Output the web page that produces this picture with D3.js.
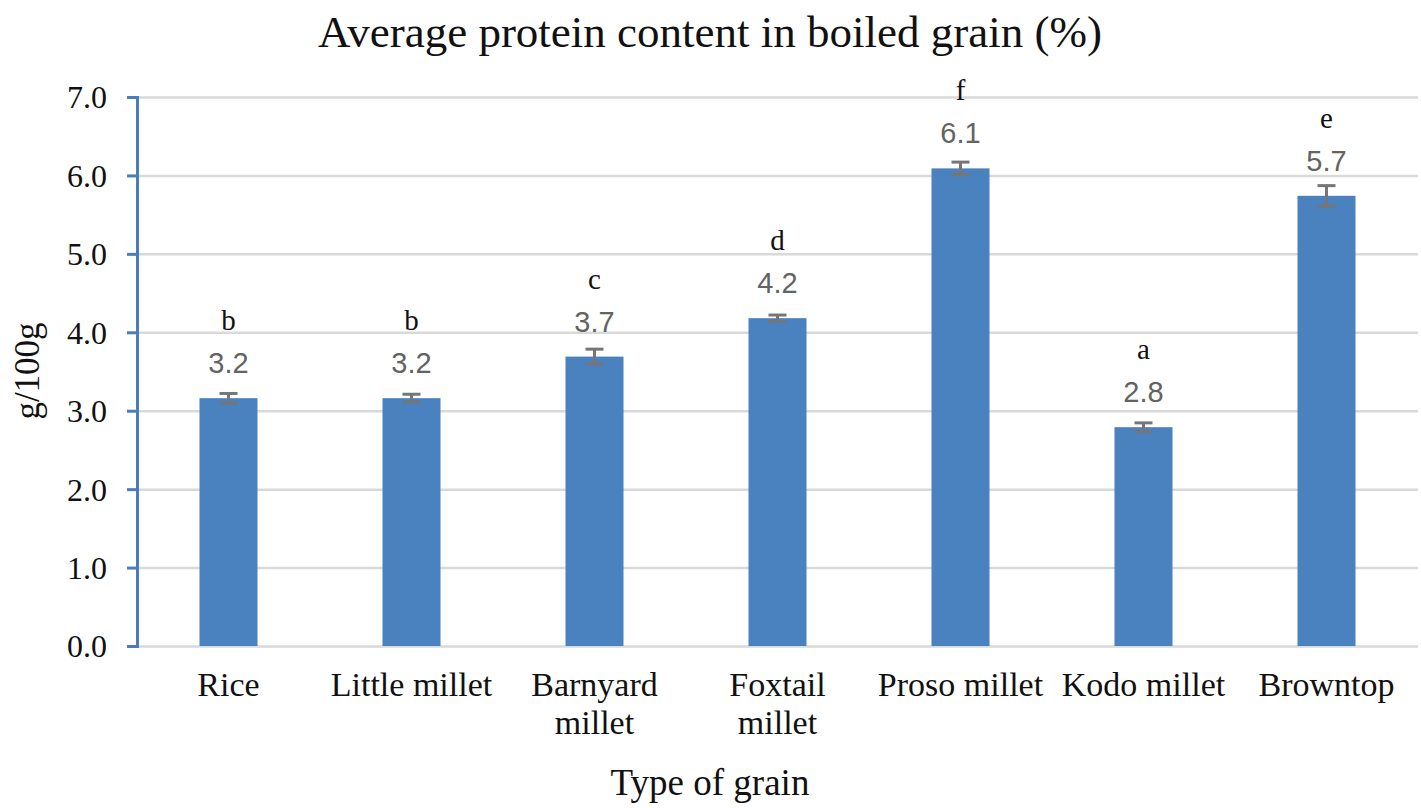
<!DOCTYPE html>
<html>
<head>
<meta charset="utf-8">
<script src="https://cdn.jsdelivr.net/npm/d3@7/dist/d3.min.js"></script>
<style>
  html, body { margin: 0; padding: 0; background: #fff; }
  svg { display: block; }
</style>
</head>
<body>
<svg id="chart" width="1421" height="808"></svg>
<script>
// ---- data ----
const categories = ["Rice", "Little millet", "Barnyard millet", "Foxtail millet", "Proso millet", "Kodo millet", "Browntop"];
const labelLines = [["Rice"], ["Little millet"], ["Barnyard", "millet"], ["Foxtail", "millet"], ["Proso millet"], ["Kodo millet"], ["Browntop"]];
const values = [3.16, 3.16, 3.69, 4.18, 6.09, 2.79, 5.74];
const errors = [0.06, 0.05, 0.095, 0.04, 0.08, 0.055, 0.13];
const letters = ["b", "b", "c", "d", "f", "a", "e"];
const yTicks = [0, 1, 2, 3, 4, 5, 6, 7];

const title = "Average protein content in boiled grain (%)";
const xTitle = "Type of grain";
const yTitle = "g/100g";

// ---- layout ----
const plotL = 137, plotR = 1418, plotT = 97, plotB = 646;
const serif = "'Liberation Serif', 'Times New Roman', serif";
const sans = "'Liberation Sans', Arial, sans-serif";

const svg = d3.select("#chart");

const x = d3.scaleBand().domain(categories).range([plotL, plotR])
  .paddingInner(0.683).paddingOuter(0.683 / 2);
const y = d3.scaleLinear().domain([0, 7]).range([plotB, plotT]);

// gridlines
const grid = svg.append("g").attr("transform", `translate(${plotL},0)`)
  .call(d3.axisLeft(y).tickValues(yTicks).tickSize(-(plotR - plotL)).tickFormat(""));
grid.select(".domain").remove();
grid.selectAll("line").attr("stroke", "#d9d9d9").attr("stroke-width", 2.5);

// bars
svg.append("g").selectAll("rect").data(categories).join("rect")
  .attr("x", d => x(d))
  .attr("width", x.bandwidth())
  .attr("y", (d, i) => y(values[i]))
  .attr("height", (d, i) => y(0) - y(values[i]))
  .attr("fill", "#4a81bf");

// error bars
const eb = svg.append("g").attr("stroke", "#767676").attr("stroke-width", 3);
categories.forEach((c, i) => {
  const cx = x(c) + x.bandwidth() / 2;
  const y1 = y(values[i] + errors[i]), y2 = y(values[i] - errors[i]);
  eb.append("line").attr("x1", cx).attr("x2", cx).attr("y1", y1).attr("y2", y2);
  eb.append("line").attr("x1", cx - 9).attr("x2", cx + 9).attr("y1", y1).attr("y2", y1);
  eb.append("line").attr("x1", cx - 9).attr("x2", cx + 9).attr("y1", y2).attr("y2", y2);
});

// y axis
const yAxis = svg.append("g").attr("transform", `translate(${plotL},0)`)
  .call(d3.axisLeft(y).tickValues(yTicks).tickFormat(d3.format(".1f")).tickSize(10).tickPadding(20));
yAxis.select(".domain").attr("stroke", "#4a7ebb").attr("stroke-width", 3);
yAxis.selectAll(".tick line").attr("stroke", "#4a7ebb").attr("stroke-width", 3);
yAxis.selectAll(".tick text").attr("font-family", serif).attr("font-size", 32).attr("fill", "#111").attr("dy", "0.34em");

// value labels
const fmt = d3.format(".1f");
svg.append("g").selectAll("text").data(categories).join("text")
  .attr("x", d => x(d) + x.bandwidth() / 2)
  .attr("y", (d, i) => y(values[i]) - 25)
  .attr("text-anchor", "middle")
  .attr("font-family", sans).attr("font-size", 29).attr("fill", "#636363")
  .text((d, i) => fmt(values[i]));

// significance letters
svg.append("g").selectAll("text").data(categories).join("text")
  .attr("x", d => x(d) + x.bandwidth() / 2)
  .attr("y", (d, i) => y(values[i]) - 68)
  .attr("text-anchor", "middle")
  .attr("font-family", serif).attr("font-size", 29).attr("fill", "#111")
  .text((d, i) => letters[i]);

// category labels
const catG = svg.append("g");
categories.forEach((c, i) => {
  const cx = x(c) + x.bandwidth() / 2;
  const t = catG.append("text")
    .attr("x", cx)
    .attr("y", 696)
    .attr("text-anchor", "middle")
    .attr("font-family", serif).attr("font-size", 34).attr("fill", "#111");
  labelLines[i].forEach((ln, j) => {
    t.append("tspan").attr("x", cx).attr("dy", j === 0 ? 0 : 38).text(ln);
  });
});

// titles
svg.append("text").attr("x", 710).attr("y", 47).attr("text-anchor", "middle")
  .attr("font-family", serif).attr("font-size", 45).attr("fill", "#111").text(title);
svg.append("text").attr("x", 710).attr("y", 795).attr("text-anchor", "middle")
  .attr("font-family", serif).attr("font-size", 37).attr("fill", "#111").text(xTitle);
svg.append("text").attr("transform", "translate(39,371) rotate(-90)").attr("text-anchor", "middle")
  .attr("font-family", serif).attr("font-size", 35).attr("fill", "#111").text(yTitle);
</script>
</body>
</html>
